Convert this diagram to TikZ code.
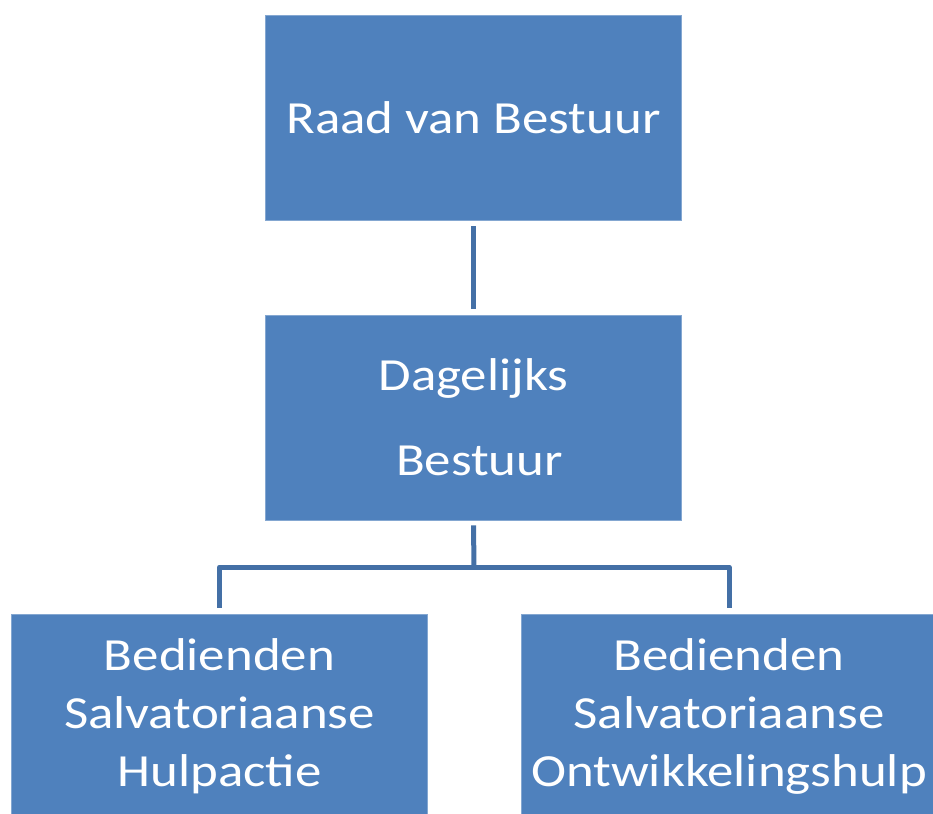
\documentclass[tikz,border=0pt]{standalone}
\usepackage{fontspec}
\setmainfont{Carlito}[FakeStretch=1.15]
\definecolor{boxblue}{HTML}{4F81BD}
\definecolor{lineblue}{HTML}{4470A6}
\begin{document}
\begin{tikzpicture}[x=1pt,y=-1pt,
  orgbox/.style={rectangle, fill=boxblue, draw=boxblue!70!white, line width=0.6pt,
    minimum width=416pt, minimum height=205pt, inner sep=0pt, text=white,
    align=center, font=\fontsize{46}{58}\selectfont},
  conn/.style={draw=lineblue, line width=5pt, line join=round}]
\useasboundingbox (0,0) rectangle (933,813);
\clip (0,0) rectangle (933,813);
\node[orgbox] (top) at (473.5,117.5) {Raad van Bestuur};
\node[orgbox] (mid) at (473.5,417.5) {Dagelijks\\[27pt]\ Bestuur};
\node[orgbox] (bl) at (219.5,716.5) {Bedienden\\Salvatoriaanse\\Hulpactie};
\node[orgbox] (br) at (729,716.5) {Bedienden\\Salvatoriaanse\\Ontwikkelingshulp};
\coordinate (junc) at (474,567);
\draw[conn] ([yshift=-6pt]top.south) -- ([yshift=6pt]mid.north);
\draw[conn] ([yshift=-5pt]mid.south) -- (junc);
\draw[conn] ([yshift=6pt]bl.north) |- (junc) -| ([yshift=6pt]br.north);
\end{tikzpicture}
\end{document}
